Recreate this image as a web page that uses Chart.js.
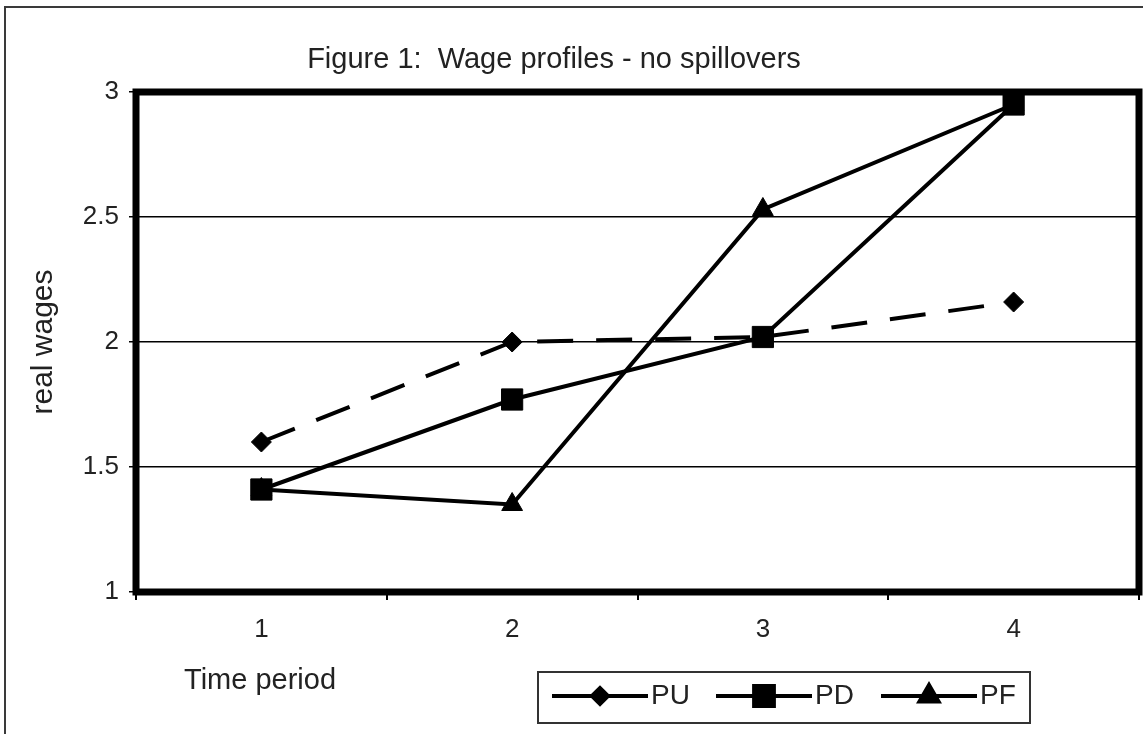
<!DOCTYPE html>
<html>
<head>
<meta charset="utf-8">
<title>Wage profiles - no spillovers</title>
<script src="https://cdn.jsdelivr.net/npm/chart.js@4.4.0/dist/chart.umd.min.js"></script>
<style>
  html, body { margin: 0; padding: 0; background: #fff; }
  #wrap { position: relative; width: 1143px; height: 734px; overflow: hidden; }
  #frame { position: absolute; left: 4px; top: 6px; width: 1200px; height: 800px;
           border: 2px solid #3a3a3a; box-sizing: border-box; pointer-events: none; }
</style>
</head>
<body>
<div id="wrap">
  <canvas id="myChart" width="1143" height="734"></canvas>
  <div id="frame"></div>
</div>
<script>
// data
const periods = ["1", "2", "3", "4"];
const puWages = [1.6, 2.0, 2.02, 2.16];
const pdWages = [1.41, 1.77, 2.02, 2.95];
const pfWages = [1.41, 1.35, 2.53, 2.95];
const yMin = 1, yMax = 3, yStep = 0.5;

const FONT = '"Liberation Sans", Arial, sans-serif';
Chart.defaults.font.family = FONT;
Chart.defaults.color = "#222";

// thick box around the plot area
const plotBox = {
    id: "plotBox",
    beforeDatasetsDraw(chart) {
        const { ctx, chartArea: a } = chart;
        ctx.save();
        ctx.strokeStyle = "#000";
        ctx.lineWidth = 7;
        ctx.strokeRect(a.left, a.top, a.right - a.left, a.bottom - a.top);
        ctx.restore();
    }
};

// title, axis labels and the boxed legend
const extras = {
    id: "extras",
    afterDraw(chart) {
        const ctx = chart.ctx;
        ctx.save();
        ctx.fillStyle = "#222";
        ctx.textBaseline = "alphabetic";

        ctx.font = "29px " + FONT;
        ctx.textAlign = "center";
        ctx.fillText("Figure 1:  Wage profiles - no spillovers", 554, 68);

        ctx.textAlign = "left";
        ctx.fillText("Time period", 184, 689);

        ctx.save();
        ctx.translate(52, 342);
        ctx.rotate(-Math.PI / 2);
        ctx.textAlign = "center";
        ctx.font = "30px " + FONT;
        ctx.fillText("real wages", 0, 0);
        ctx.restore();

        // legend box
        ctx.strokeStyle = "#333";
        ctx.lineWidth = 2;
        ctx.strokeRect(538, 672, 492, 51);

        const starts = [552, 716, 881];
        const cy = 696;
        chart.data.datasets.forEach((ds, i) => {
            const x0 = starts[i];
            ctx.strokeStyle = "#000";
            ctx.lineWidth = 4;
            ctx.setLineDash([]);
            ctx.beginPath();
            ctx.moveTo(x0, cy);
            ctx.lineTo(x0 + 96, cy);
            ctx.stroke();
            ctx.fillStyle = "#000";
            Chart.helpers.drawPoint(ctx, {
                pointStyle: ds.pointStyle,
                radius: ds.legendRadius,
                borderWidth: 1,
                rotation: 0
            }, x0 + 48, cy);
            ctx.fillStyle = "#222";
            ctx.font = "28px " + FONT;
            ctx.textAlign = "left";
            ctx.textBaseline = "middle";
            ctx.fillText(ds.label, x0 + 99, cy);
        });
        ctx.restore();
    }
};

const ctx = document.getElementById("myChart").getContext("2d");
new Chart(ctx, {
    type: "line",
    data: {
        labels: periods,
        datasets: [
            {
                label: "PU", data: puWages,
                borderColor: "#000", backgroundColor: "#000",
                borderWidth: 4, borderDash: [36, 23],
                pointStyle: "rectRot", pointRadius: 10, legendRadius: 8,
                pointBorderWidth: 1, clip: false
            },
            {
                label: "PD", data: pdWages,
                borderColor: "#000", backgroundColor: "#000",
                borderWidth: 4,
                pointStyle: "rect", pointRadius: 15, legendRadius: 14,
                pointBorderWidth: 1, clip: false
            },
            {
                label: "PF", data: pfWages,
                borderColor: "#000", backgroundColor: "#000",
                borderWidth: 4,
                pointStyle: "triangle", pointRadius: 12, legendRadius: 11,
                pointBorderWidth: 1, clip: false
            }
        ]
    },
    options: {
        responsive: false,
        animation: false,
        events: [],
        layout: { autoPadding: false, padding: { top: 92, right: 4, left: 0, bottom: 0 } },
        plugins: {
            legend: { display: false },
            title: { display: false },
            tooltip: { enabled: false }
        },
        scales: {
            x: {
                offset: true,
                grid: { offset: true, drawOnChartArea: false, color: "#000", lineWidth: 2, tickLength: 8 },
                border: { display: false },
                ticks: { font: { size: 26 }, padding: 14, color: "#222" },
                afterFit(scale) { scale.height = 142; }
            },
            y: {
                min: yMin, max: yMax,
                grid: { color: "#000", lineWidth: 1.5, tickLength: 7 },
                border: { display: false },
                ticks: {
                    stepSize: yStep, font: { size: 26 }, padding: 10, color: "#222",
                    callback: v => String(v)
                },
                afterFit(scale) { scale.width = 136; }
            }
        }
    },
    plugins: [plotBox, extras]
});
</script>
</body>
</html>
